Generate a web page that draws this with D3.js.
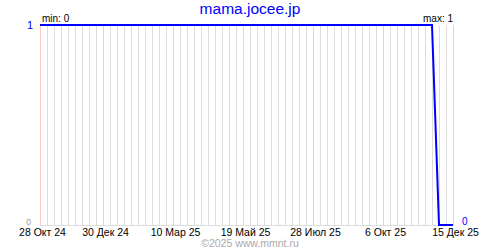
<!DOCTYPE html>
<html>
<head>
<meta charset="utf-8">
<script src="https://cdn.jsdelivr.net/npm/d3@7"></script>
<style>
  body { margin: 0; background: #fff; }
  svg { display: block; }
</style>
</head>
<body>
<script>
// weekly availability, first week starts 28 Oct 2024
var startDate = "2024-10-28";
var values = [1,1,1,1,1,1,1,1,1,1,
              1,1,1,1,1,1,1,1,1,1,
              1,1,1,1,1,1,1,1,1,1,
              1,1,1,1,1,1,1,1,1,1,
              1,1,1,1,1,1,1,1,1,1,
              1,1,1,1,1,1,1,0,0,0];
var tickDates = ["2024-10-28","2024-12-30","2025-03-10","2025-05-19","2025-07-28","2025-10-06","2025-12-15"];
var monthsRu = ["Янв","Фев","Мар","Апр","Май","Июн","Июл","Авг","Сен","Окт","Ноя","Дек"];
var title = "mama.jocee.jp";
var footer = "\u00a92025 www.mmnt.ru";

var width = 500, height = 250;
var margin = {left: 40, right: 47, top: 25, bottom: 25};

var parse = d3.utcParse("%Y-%m-%d");
var t0 = parse(startDate);
var data = values.map(function(v, i) { return {date: d3.utcDay.offset(t0, i * 7), value: v}; });
var ticks = tickDates.map(parse);
var tickSet = tickDates.slice();

var x = d3.scaleUtc()
    .domain([data[0].date, data[data.length - 1].date])
    .range([margin.left, width - margin.right]);
var y = d3.scaleLinear()
    .domain([0, 1])
    .range([height - margin.bottom, margin.top]);

var svg = d3.select("body").append("svg")
    .attr("width", width)
    .attr("height", height)
    .style("font-family", "'Liberation Sans', Arial, sans-serif");

//__weekly grid, pink on labelled weeks__//
svg.append("g").selectAll("line")
    .data(data)
    .enter().append("line")
    .attr("x1", function(d) { return Math.round(x(d.date)) + 0.5; })
    .attr("x2", function(d) { return Math.round(x(d.date)) + 0.5; })
    .attr("y1", y(1))
    .attr("y2", y(0))
    .attr("stroke", function(d) {
        return tickSet.indexOf(d3.utcFormat("%Y-%m-%d")(d.date)) >= 0 ? "#ffc8c8" : "#dddddd";
    })
    .attr("stroke-width", 1);

// bottom base line
svg.append("line")
    .attr("x1", x.range()[0]).attr("x2", x.range()[1])
    .attr("y1", y(0) + 0.5).attr("y2", y(0) + 0.5)
    .attr("stroke", "#dddddd");

//__x axis labels__//
var xAxis = d3.axisBottom(x)
    .tickValues(ticks)
    .tickSize(0)
    .tickPadding(0)
    .tickFormat(function(d) {
        return d.getUTCDate() + " " + monthsRu[d.getUTCMonth()] + " " + d3.utcFormat("%y")(d);
    });
var gx = svg.append("g")
    .attr("transform", "translate(2," + (height - 14) + ")")
    .call(xAxis);
gx.select(".domain").remove();
gx.selectAll("text")
    .attr("dy", 0)
    .attr("fill", "#000")
    .style("font-size", "10.5px")
    .style("font-family", "'Liberation Sans', Arial, sans-serif");

//__the line__//
var line = d3.line()
    .x(function(d) { return x(d.date); })
    .y(function(d) { return y(d.value); });
svg.append("path")
    .datum(data)
    .attr("fill", "none")
    .attr("stroke", "#0000ff")
    .attr("stroke-width", 2)
    .attr("d", line);

//__texts__//
svg.append("text")
    .attr("x", width / 2).attr("y", 14)
    .attr("text-anchor", "middle")
    .attr("fill", "#0000ff")
    .style("font-size", "15.5px")
    .text(title);

svg.append("text")
    .attr("x", margin.left + 2).attr("y", margin.top - 3)
    .attr("fill", "#000")
    .style("font-size", "10px")
    .text("min: " + d3.min(values));

svg.append("text")
    .attr("x", width - margin.right).attr("y", margin.top - 3)
    .attr("text-anchor", "end")
    .attr("fill", "#000")
    .style("font-size", "10px")
    .text("max: " + d3.max(values));

svg.append("text")
    .attr("x", 33).attr("y", y(1) + 4)
    .attr("text-anchor", "end")
    .attr("fill", "#0000ff")
    .style("font-size", "11px")
    .text(d3.max(values));

svg.append("text")
    .attr("x", 31).attr("y", y(0))
    .attr("text-anchor", "end")
    .attr("fill", "#999")
    .style("font-size", "8.5px")
    .text(d3.min(values));

svg.append("text")
    .attr("x", x.range()[1] + 9).attr("y", y(0))
    .attr("fill", "#0000ff")
    .style("font-size", "10px")
    .text(values[values.length - 1]);

svg.append("text")
    .attr("x", width / 2).attr("y", 247)
    .attr("text-anchor", "middle")
    .attr("fill", "#aaaaaa")
    .style("font-size", "10.5px")
    .text(footer);
</script>
</body>
</html>
